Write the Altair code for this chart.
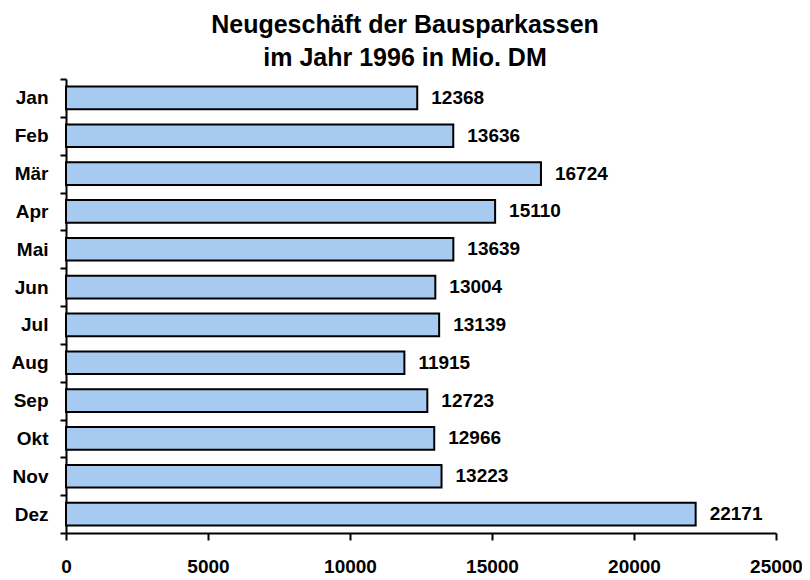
import altair as alt
import pandas as pd

months = ["Jan", "Feb", "Mär", "Apr", "Mai", "Jun", "Jul", "Aug", "Sep", "Okt", "Nov", "Dez"]
values = [12368, 13636, 16724, 15110, 13639, 13004, 13139, 11915, 12723, 12966, 13223, 22171]
x_ticks = [0, 5000, 10000, 15000, 20000, 25000]

df = pd.DataFrame({"Monat": months, "Wert": values})

FONT = "Liberation Sans"

y_enc = alt.Y(
    "Monat:N",
    sort=months,
    title=None,
    scale=alt.Scale(paddingInner=0, paddingOuter=0),
    axis=alt.Axis(
        tickBand="extent",
        labelFont=FONT,
        labelFontSize=19,
        labelFontWeight="bold",
        labelColor="black",
        labelPadding=12,
        tickSize=6,
        tickWidth=2,
        tickColor="black",
        domainColor="black",
        domainWidth=2,
    ),
)

x_enc = alt.X(
    "Wert:Q",
    title=None,
    scale=alt.Scale(domain=[0, 25000], nice=False),
    axis=alt.Axis(
        values=x_ticks,
        format="d",
        grid=False,
        labelFont=FONT,
        labelFontSize=19,
        labelFontWeight="bold",
        labelColor="black",
        labelPadding=17,
        tickSize=7,
        tickWidth=2,
        tickColor="black",
        domainColor="black",
        domainWidth=2,
        labelFlush=False,
    ),
)

bars = alt.Chart(df).mark_bar(
    color="#A6CAF0", stroke="black", strokeWidth=2,
    height=alt.RelativeBandSize(0.6),
).encode(x=x_enc, y=y_enc)

labels = alt.Chart(df).mark_text(
    align="left", baseline="middle", dx=14, font=FONT, fontSize=19,
    fontWeight="bold", color="black"
).encode(x="Wert:Q", y=alt.Y("Monat:N", sort=months), text="Wert:Q")

chart = (bars + labels).properties(
    width=710,
    height=454,
    autosize=alt.AutoSizeParams(type="none"),
    padding={"left": 58, "top": 71, "right": 26, "bottom": 45},
    title=alt.TitleParams(
        text=["Neugeschäft der Bausparkassen", "im Jahr 1996 in Mio. DM"],
        font=FONT,
        fontSize=25,
        fontWeight="bold",
        color="black",
        anchor="middle",
        dx=-16,
        dy=4,
        lineHeight=33,
        offset=3,
    ),
).configure_view(stroke=None)

chart.save("out.html", embed_options={"renderer": "svg", "actions": False})
